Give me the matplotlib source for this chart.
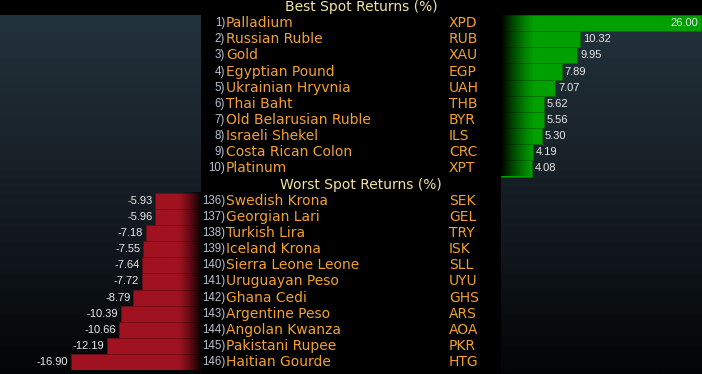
import numpy as np
import matplotlib
matplotlib.use("Agg")
import matplotlib.pyplot as plt
from matplotlib.colors import LinearSegmentedColormap

# data
best_names = ["Palladium", "Russian Ruble", "Gold", "Egyptian Pound", "Ukrainian Hryvnia",
              "Thai Baht", "Old Belarusian Ruble", "Israeli Shekel", "Costa Rican Colon", "Platinum"]
best_codes = ["XPD", "RUB", "XAU", "EGP", "UAH", "THB", "BYR", "ILS", "CRC", "XPT"]
best_ranks = [1, 2, 3, 4, 5, 6, 7, 8, 9, 10]
best_vals = [26.00, 10.32, 9.95, 7.89, 7.07, 5.62, 5.56, 5.30, 4.19, 4.08]

worst_names = ["Swedish Krona", "Georgian Lari", "Turkish Lira", "Iceland Krona", "Sierra Leone Leone",
               "Uruguayan Peso", "Ghana Cedi", "Argentine Peso", "Angolan Kwanza", "Pakistani Rupee",
               "Haitian Gourde"]
worst_codes = ["SEK", "GEL", "TRY", "ISK", "SLL", "UYU", "GHS", "ARS", "AOA", "PKR", "HTG"]
worst_ranks = [136, 137, 138, 139, 140, 141, 142, 143, 144, 145, 146]
worst_vals = [-5.93, -5.96, -7.18, -7.55, -7.64, -7.72, -8.79, -10.39, -10.66, -12.19, -16.90]

W, H = 702, 374
LEFT_EDGE, RIGHT_EDGE = 201, 501
TOP, BOT = 15, 370.3
PX_PER_UNIT = 7.68
nrows = 22

GREEN = "#00a000"
RED = "#a0121f"
ORANGE = "#f2a030"
INDEX_C = "#b8c2d2"
TITLE_C = "#efe4a2"
VAL_C = "#e8e8e8"


def box(x0, y0, x1, y1):
    # pixel box (top-left origin) -> figure fraction
    return [x0 / W, 1 - y1 / H, (x1 - x0) / W, (y1 - y0) / H]


fig = plt.figure(figsize=(W / 100, H / 100), dpi=100)
fig.patch.set_facecolor("black")

# background with side gradients
bg = fig.add_axes([0, 0, 1, 1])
bg.axis("off")
cmap_bg = LinearSegmentedColormap.from_list("bg", ["#22323b", "#1a242c", "#10161b", "#030405"])
grad = np.linspace(0, 1, 256).reshape(-1, 1)
for x0, x1 in [(0, LEFT_EDGE), (RIGHT_EDGE, W)]:
    bg.imshow(grad, cmap=cmap_bg, aspect="auto", extent=(x0, x1, H, TOP), zorder=0)
bg.set_xlim(0, W)
bg.set_ylim(H, 0)

best_rows = np.arange(len(best_vals))
worst_rows = np.arange(len(worst_vals)) + len(best_vals) + 1

# right: best returns
axr = fig.add_axes(box(RIGHT_EDGE, TOP, W, BOT))
axr.axis("off")
axr.barh(best_rows, best_vals, height=1.0, color=GREEN, edgecolor="#007000", linewidth=0.5)
fade = np.zeros((1, 64, 4))
fade[0, :, 3] = np.linspace(1, 0, 64) ** 1.3
axr.imshow(fade, aspect="auto", extent=(0, 4.3, best_rows[-1] + 0.5, -0.5), zorder=3)
for r, v in zip(best_rows, best_vals):
    if v > 20:
        axr.annotate(f"{v:.2f}", (v, r), xytext=(-2, 0), textcoords="offset points",
                     ha="right", va="center", color=VAL_C, fontsize=8, family="Liberation Sans", zorder=4)
    else:
        axr.annotate(f"{v:.2f}", (v, r), xytext=(2, 0), textcoords="offset points",
                     ha="left", va="center", color=VAL_C, fontsize=8, family="Liberation Sans", zorder=4)
axr.set_xlim(0, (W - RIGHT_EDGE) / PX_PER_UNIT)
axr.set_ylim(nrows - 0.5, -0.5)

# left: worst returns
axl = fig.add_axes(box(0, TOP, LEFT_EDGE, BOT))
axl.axis("off")
axl.barh(worst_rows, worst_vals, height=1.0, color=RED, edgecolor="#6e0c16", linewidth=0.5)
fade2 = np.zeros((1, 64, 4))
fade2[0, :, 3] = np.linspace(0, 1, 64) ** 1.3
axl.imshow(fade2, aspect="auto", extent=(-3.0, 0, worst_rows[-1] + 0.5, worst_rows[0] - 0.5), zorder=3)
for r, v in zip(worst_rows, worst_vals):
    axl.annotate(f"{v:.2f}", (v, r), xytext=(-2, 0), textcoords="offset points",
                 ha="right", va="center", color=VAL_C, fontsize=8, family="Liberation Sans", zorder=4)
axl.set_xlim(-LEFT_EDGE / PX_PER_UNIT, 0)
axl.set_ylim(nrows - 0.5, -0.5)

# center table
axc = fig.add_axes(box(LEFT_EDGE, TOP, RIGHT_EDGE, BOT))
axc.set_xlim(0, RIGHT_EDGE - LEFT_EDGE)
axc.set_ylim(nrows - 0.5, -0.5)
axc.set_facecolor("black")
axc.set_xticks([])
axc.set_yticks([])
for s in axc.spines.values():
    s.set_visible(False)

title_x = 160
axc.text(title_x, -1, "Best Spot Returns (%)", ha="center", va="center",
         color=TITLE_C, fontsize=10, clip_on=False)
axc.text(title_x, len(best_vals), "Worst Spot Returns (%)", ha="center", va="center",
         color=TITLE_C, fontsize=10)

for ranks, names, codes, rows in [(best_ranks, best_names, best_codes, best_rows),
                                  (worst_ranks, worst_names, worst_codes, worst_rows)]:
    for k, n, c, r in zip(ranks, names, codes, rows):
        axc.text(24, r, f"{k})", ha="right", va="center", color=INDEX_C,
                 fontsize=8.3, family="Liberation Sans")
        axc.text(25, r, n, ha="left", va="center", color=ORANGE, fontsize=10)
        axc.text(248, r, c, ha="left", va="center", color=ORANGE, fontsize=10)

fig.savefig("out.png", dpi=100, facecolor="black")
